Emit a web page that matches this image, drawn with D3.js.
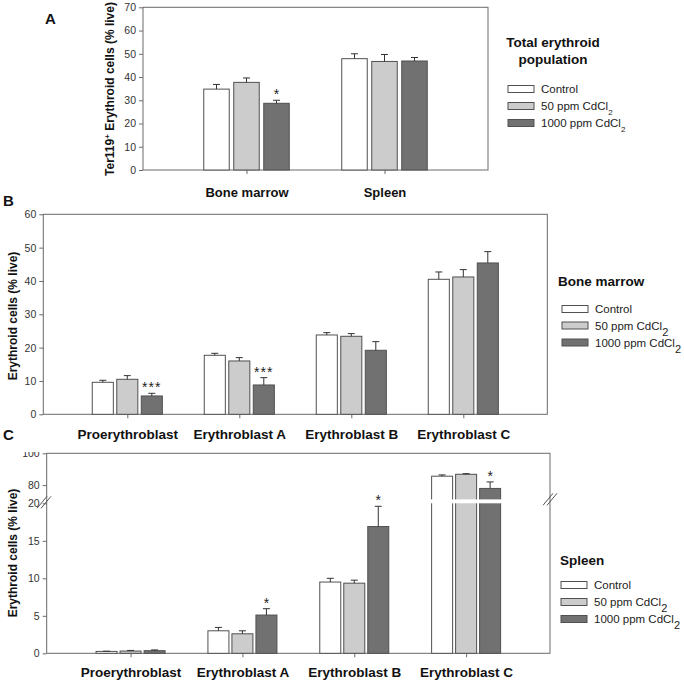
<!DOCTYPE html>
<html><head><meta charset="utf-8">
<script src="https://cdn.jsdelivr.net/npm/d3@7"></script>
<style>body{margin:0;background:#fff;} svg{display:block;font-family:"Liberation Sans",Arial,sans-serif;}</style>
</head><body>
<svg id="c" width="684" height="682"></svg>
<script>
// ---------- data ----------
const seriesNames = ["Control", "50 ppm CdCl", "1000 ppm CdCl"];
const seriesSub = ["", "2", "2"];
const seriesFill = ["#ffffff", "#cccccc", "#717171"];

const groupsA = ["Bone marrow", "Spleen"];
const aControl = [34.8, 47.9], aControlErr = [2.0, 2.1];
const a50 = [37.7, 46.7], a50Err = [1.9, 3.0];
const a1000 = [28.7, 46.9], a1000Err = [1.3, 1.5];
const aSig = [["", ""], ["", ""], ["*", ""]];
const ticksA = [0, 10, 20, 30, 40, 50, 60, 70];

const stages = ["Proerythroblast", "Erythroblast A", "Erythroblast B", "Erythroblast C"];
const bControl = [9.6, 17.7, 23.8, 40.5], bControlErr = [0.6, 0.6, 0.7, 2.2];
const b50 = [10.5, 16.0, 23.4, 41.2], b50Err = [1.1, 1.0, 0.8, 2.2];
const b1000 = [5.5, 8.8, 19.2, 45.4], b1000Err = [0.8, 2.2, 2.6, 3.4];
const bSig = [["", "", "", ""], ["", "", "", ""], ["***", "***", "", ""]];
const ticksB = [0, 10, 20, 30, 40, 50, 60];

const cControl = [0.25, 3.0, 9.5, 85.6], cControlErr = [0.03, 0.45, 0.5, 0.8];
const c50 = [0.3, 2.6, 9.35, 86.8], c50Err = [0.08, 0.4, 0.4, 0.4];
const c1000 = [0.35, 5.1, 16.9, 77.9], c1000Err = [0.1, 0.85, 2.7, 4.1];
const cSig = [["", "", "", ""], ["", "", "", ""], ["", "*", "*", "*"]];
const ticksC = [0, 5, 10, 15, 20, 80, 100];
const breakC = [20, 71];

const svg = d3.select("#c");
const FRAME = "#6a6a6a";

function drawPanel(o) {
  const g = svg.append("g");
  const x = d3.scalePoint().domain(o.cats).range([o.x0, o.x1]).padding(0.75);
  const y = o.y;
  const inner = d3.scaleBand().domain(seriesNames)
    .range([-1.5 * o.stride, 1.5 * o.stride]).paddingInner(o.pi).paddingOuter(o.pi / 2);
  const bw = inner.bandwidth();
  const yTop = y(o.yMax), yBot = y(0);

  // frame
  g.append("rect").attr("x", o.x0).attr("y", yTop).attr("width", o.x1 - o.x0).attr("height", yBot - yTop)
    .attr("fill", "none").attr("stroke", FRAME).attr("stroke-width", 1);

  // y axis
  const ya = g.append("g").attr("transform", `translate(${o.x0},0)`)
    .call(d3.axisLeft(y).tickValues(o.ticks).tickSize(4).tickPadding(3));
  ya.select(".domain").remove();
  ya.selectAll("line").attr("stroke", FRAME);
  ya.selectAll("text").attr("fill", "#333").style("font-size", "10.5px").style("font-family", "Liberation Sans, Arial, sans-serif");
  if (o.clipTop) {
    const id = "clip" + Math.round(o.x0);
    svg.append("defs").append("clipPath").attr("id", id).append("rect")
      .attr("x", -200).attr("y", o.clipTop).attr("width", 900).attr("height", 700);
    ya.attr("clip-path", `url(#${id})`);
  }

  // x axis
  const xa = g.append("g").attr("transform", `translate(0,${yBot})`)
    .call(d3.axisBottom(x).tickSize(4).tickPadding(o.xPad));
  xa.select(".domain").remove();
  xa.selectAll("line").attr("stroke", FRAME);
  xa.selectAll("text").attr("fill", "#111").style("font-size", o.catSize + "px").style("font-weight", "bold")
    .style("font-family", "Liberation Sans, Arial, sans-serif");

  // bars
  o.series.forEach((s, si) => {
    o.cats.forEach((c, ci) => {
      const v = s.val[ci], e = s.err[ci];
      const bx = x(c) + inner(seriesNames[si]);
      g.append("rect").attr("x", bx).attr("y", y(v)).attr("width", bw).attr("height", yBot - y(v))
        .attr("fill", seriesFill[si]).attr("stroke", "#505050").attr("stroke-width", 1);
      const cx = bx + bw / 2;
      g.append("line").attr("x1", cx).attr("x2", cx).attr("y1", y(v)).attr("y2", y(v + e)).attr("stroke", "#333");
      g.append("line").attr("x1", cx - 3.5).attr("x2", cx + 3.5).attr("y1", y(v + e)).attr("y2", y(v + e)).attr("stroke", "#333");
      if (o.brk && v > o.brk[0]) {
        g.append("rect").attr("x", bx - 1.5).attr("width", bw + 3).attr("y", y(o.brk[1]))
          .attr("height", y(o.brk[0]) - y(o.brk[1])).attr("fill", "#fff");
      }
      const sig = o.sig[si][ci];
      if (sig) {
        g.append("text").attr("x", cx).attr("y", y(v + e) - 1).attr("text-anchor", "middle")
          .style("font-size", "14px").style("letter-spacing", sig.length > 1 ? "1px" : "0").attr("fill", "#222").text(sig);
      }
    });
  });

  // y title
  const t = g.append("text").attr("transform", `translate(${o.yTitleX},${o.yTitleY}) rotate(-90)`)
    .attr("text-anchor", "middle").style("font-size", "12px").style("font-weight", "bold").attr("fill", "#111");
  o.yTitle.forEach(p => {
    const ts = t.append("tspan").text(p.t);
    if (p.sup) ts.attr("baseline-shift", "super").style("font-size", "8px");
  });

  // legend
  const lg = g.append("g");
  o.legTitle.forEach((lt, i) => {
    lg.append("text").attr("x", o.legTitleX).attr("y", o.legTitleY + i * 17).attr("text-anchor", o.legTitleAnchor)
      .style("font-size", "13.5px").style("font-weight", "bold").attr("fill", "#111").text(lt);
  });
  seriesNames.forEach((n, i) => {
    const cy = o.legRows[i];
    lg.append("rect").attr("x", o.legX).attr("y", cy - 3.5).attr("width", 26).attr("height", 7)
      .attr("fill", seriesFill[i]).attr("stroke", "#505050").attr("stroke-width", 1);
    const tx = lg.append("text").attr("x", o.legX + 33).attr("y", cy + 4).style("font-size", "11.5px").attr("fill", "#222");
    tx.append("tspan").text(n);
    if (seriesSub[i]) tx.append("tspan").attr("baseline-shift", "sub").style("font-size", o.subSize + "px").text(seriesSub[i]);
  });
  return { x, y };
}

// Panel A
drawPanel({
  cats: groupsA, x0: 143, x1: 488,
  y: d3.scaleLinear().domain([0, 70]).range([170, 7.3]), yMax: 70, ticks: ticksA,
  stride: 30, pi: 0.15, xPad: 14, catSize: 13,
  series: [{ val: aControl, err: aControlErr }, { val: a50, err: a50Err }, { val: a1000, err: a1000Err }],
  sig: aSig,
  yTitle: [{ t: "Ter119" }, { t: "+", sup: true }, { t: " Erythroid cells (% live)" }], yTitleX: 114, yTitleY: 89,
  legTitle: ["Total erythroid", "population"], legTitleX: 553, legTitleY: 47, legTitleAnchor: "middle",
  legX: 508, legRows: [89, 106, 123], subSize: 8
});

// Panel B
drawPanel({
  cats: stages, x0: 43.3, x1: 547.3,
  y: d3.scaleLinear().domain([0, 60]).range([414.3, 214.3]), yMax: 60, ticks: ticksB,
  stride: 24.5, pi: 0.14, xPad: 11.5, catSize: 13.5,
  series: [{ val: bControl, err: bControlErr }, { val: b50, err: b50Err }, { val: b1000, err: b1000Err }],
  sig: bSig,
  yTitle: [{ t: "Erythroid cells (% live)" }], yTitleX: 17, yTitleY: 316,
  legTitle: ["Bone marrow"], legTitleX: 558, legTitleY: 286, legTitleAnchor: "start",
  legX: 562, legRows: [309, 325.5, 342.5], subSize: 11
});

// Panel C (broken axis)
const yC = d3.scaleLinear().domain([0, breakC[0], breakC[1], 100]).range([653.3, 503.3, 499.4, 453.3]);
drawPanel({
  cats: stages, x0: 46.7, x1: 550,
  y: yC, yMax: 100, ticks: ticksC, clipTop: 452,
  stride: 24, pi: 0.125, xPad: 10.5, catSize: 13.5, brk: breakC,
  series: [{ val: cControl, err: cControlErr }, { val: c50, err: c50Err }, { val: c1000, err: c1000Err }],
  sig: cSig,
  yTitle: [{ t: "Erythroid cells (% live)" }], yTitleX: 17, yTitleY: 553,
  legTitle: ["Spleen"], legTitleX: 560, legTitleY: 565, legTitleAnchor: "start",
  legX: 561, legRows: [585, 602, 619], subSize: 11
});

// break marks
[[44, yC(20) - 1], [550, yC(20) - 4]].forEach(([bx, by]) => {
  [-2, 2].forEach(d => {
    svg.append("line").attr("x1", bx - 5 + d).attr("y1", by + 6).attr("x2", bx + 5 + d).attr("y2", by - 6)
      .attr("stroke", "#555").attr("stroke-width", 1);
  });
});

// panel letters
[["A", 45, 24], ["B", 3, 206], ["C", 3, 440]].forEach(([l, lx, ly]) => {
  svg.append("text").attr("x", lx).attr("y", ly).style("font-size", "15px").style("font-weight", "bold").attr("fill", "#111").text(l);
});
</script>
</body></html>
